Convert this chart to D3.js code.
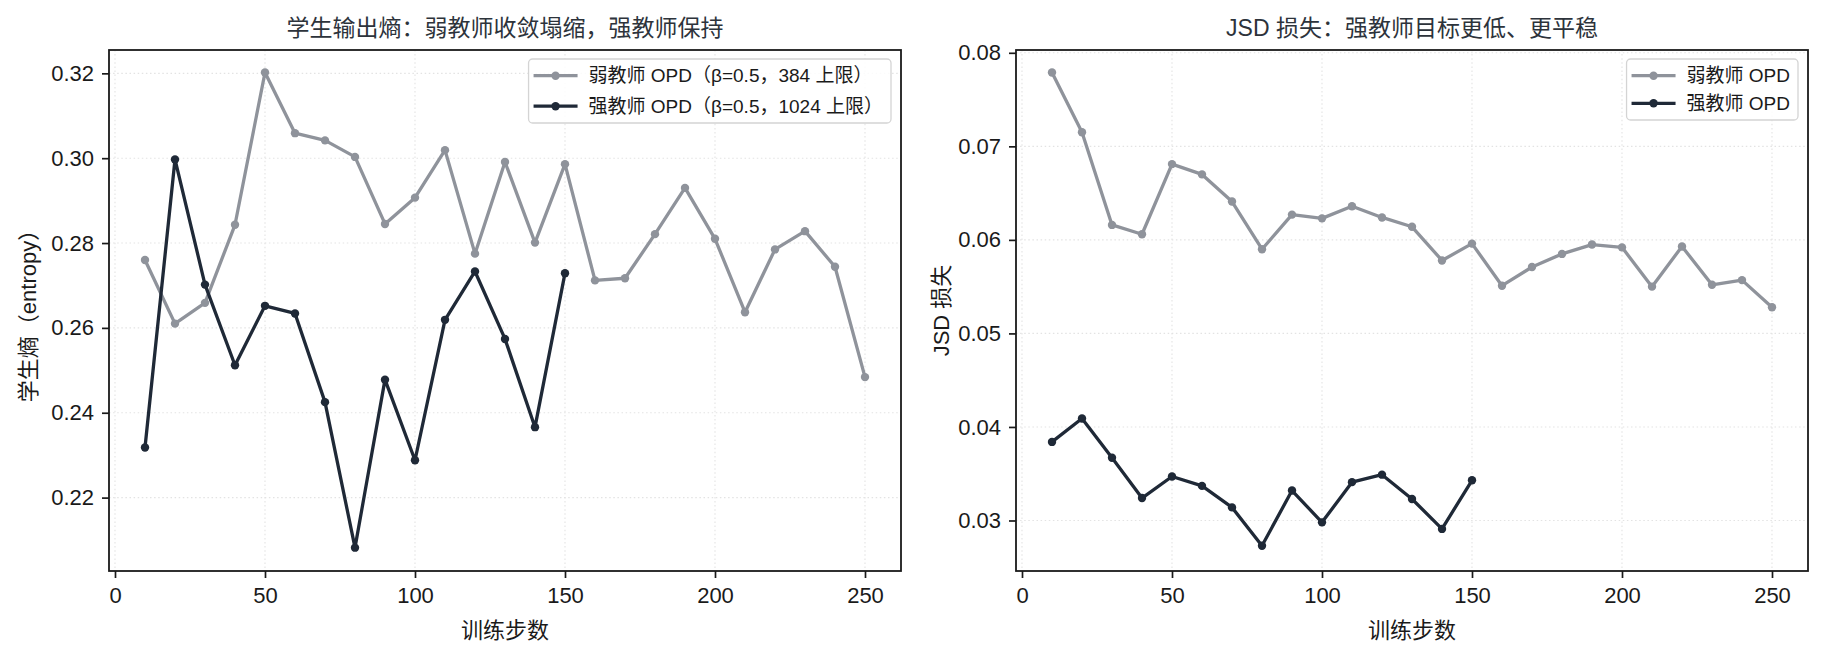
<!DOCTYPE html>
<html>
<head>
<meta charset="utf-8">
<script src="https://cdn.jsdelivr.net/npm/d3@7"></script>
<style>
  body { margin: 0; background: #fff; }
  svg { display: block; font-family: "Liberation Sans", "Noto Sans CJK SC", sans-serif; }
</style>
</head>
<body>
<svg id="chart" width="1824" height="656"></svg>
<script>
// training steps
const stepsWeak = [10, 20, 30, 40, 50, 60, 70, 80, 90, 100, 110, 120, 130, 140, 150,
                   160, 170, 180, 190, 200, 210, 220, 230, 240, 250];
const stepsStrong = [10, 20, 30, 40, 50, 60, 70, 80, 90, 100, 110, 120, 130, 140, 150];

// student entropy
const entropyWeak = [0.2760, 0.2610, 0.2659, 0.2843, 0.3202, 0.3059, 0.3042, 0.3003, 0.2845, 0.2907,
                     0.3019, 0.2775, 0.2991, 0.2801, 0.2986, 0.2712, 0.2717, 0.2821, 0.2930, 0.2810,
                     0.2637, 0.2785, 0.2828, 0.2744, 0.2484];
const entropyStrong = [0.2318, 0.2997, 0.2702, 0.2512, 0.2652, 0.2634, 0.2425, 0.2082, 0.2478, 0.2288,
                       0.2619, 0.2733, 0.2574, 0.2366, 0.2729];

// JSD loss
const jsdWeak = [0.0779, 0.0715, 0.0616, 0.0606, 0.0681, 0.0670, 0.0641, 0.0590, 0.0627, 0.0623,
                 0.0636, 0.0624, 0.0614, 0.0578, 0.0596, 0.0551, 0.0571, 0.0585, 0.0595, 0.0592,
                 0.0550, 0.0593, 0.0552, 0.0557, 0.0528];
const jsdStrong = [0.0384, 0.0409, 0.0367, 0.0324, 0.0347, 0.0337, 0.0314, 0.0273, 0.0332, 0.0298,
                   0.0341, 0.0349, 0.0323, 0.0291, 0.0343];

const xTicks = [0, 50, 100, 150, 200, 250];
const entropyTicks = [0.22, 0.24, 0.26, 0.28, 0.30, 0.32];
const jsdTicks = [0.03, 0.04, 0.05, 0.06, 0.07, 0.08];

const colorWeak = "#8f939b";
const colorStrong = "#1f2937";

const svg = d3.select("#chart");

function drawPanel(opts) {
    const m = opts.box; // left, top, right, bottom of the axes frame
    const g = svg.append("g");

    const x = d3.scaleLinear().domain([-2, 262]).range([m.left, m.right]);
    const y = d3.scaleLinear().domain(opts.yDomain).range([m.bottom, m.top]);

    // dotted grid
    g.selectAll(".gx").data(xTicks).enter().append("line")
        .attr("x1", d => x(d)).attr("x2", d => x(d))
        .attr("y1", m.top).attr("y2", m.bottom)
        .attr("stroke", "#e3e3e3").attr("stroke-width", 1.1)
        .attr("stroke-dasharray", "1.5,2.6");
    g.selectAll(".gy").data(opts.yTicks).enter().append("line")
        .attr("x1", m.left).attr("x2", m.right)
        .attr("y1", d => y(d)).attr("y2", d => y(d))
        .attr("stroke", "#e3e3e3").attr("stroke-width", 1.1)
        .attr("stroke-dasharray", "1.5,2.6");

    // axes
    const xAxis = g.append("g")
        .attr("transform", `translate(0,${m.bottom})`)
        .call(d3.axisBottom(x).tickValues(xTicks).tickSizeOuter(0).tickSize(7).tickPadding(9));
    const yAxis = g.append("g")
        .attr("transform", `translate(${m.left},0)`)
        .call(d3.axisLeft(y).tickValues(opts.yTicks).tickFormat(d3.format(".2f"))
            .tickSizeOuter(0).tickSize(7).tickPadding(8));
    [xAxis, yAxis].forEach(a => {
        a.select(".domain").remove();
        a.selectAll("line").attr("stroke", "#1a1a1a").attr("stroke-width", 1.7);
        a.selectAll("text").attr("fill", "#1a1a1a")
            .style("font-size", "22px").style("font-family", "Liberation Sans, sans-serif");
    });

    // series
    const line = d3.line().x(d => x(d[0])).y(d => y(d[1]));
    opts.series.forEach(s => {
        const pts = s.xs.map((v, i) => [v, s.ys[i]]);
        g.append("path").datum(pts)
            .attr("d", line)
            .attr("fill", "none")
            .attr("stroke", s.color)
            .attr("stroke-width", 3.3)
            .attr("stroke-linejoin", "round");
        g.selectAll(null).data(pts).enter().append("circle")
            .attr("cx", d => x(d[0])).attr("cy", d => y(d[1]))
            .attr("r", 4.2).attr("fill", s.color);
    });

    // frame
    g.append("rect")
        .attr("x", m.left).attr("y", m.top)
        .attr("width", m.right - m.left).attr("height", m.bottom - m.top)
        .attr("fill", "none").attr("stroke", "#1a1a1a").attr("stroke-width", 1.8);

    // title and labels
    g.append("text")
        .attr("x", (m.left + m.right) / 2).attr("y", 36)
        .attr("text-anchor", "middle")
        .attr("fill", "#2d333b")
        .style("font-size", "23px")
        .text(opts.title);
    g.append("text")
        .attr("x", (m.left + m.right) / 2).attr("y", 638)
        .attr("text-anchor", "middle")
        .attr("fill", "#1a1a1a")
        .style("font-size", "22px")
        .text("训练步数");
    g.append("text")
        .attr("transform", `translate(${opts.yLabelX},${(m.top + m.bottom) / 2}) rotate(-90)`)
        .attr("text-anchor", "middle")
        .attr("dominant-baseline", "central")
        .attr("fill", "#1a1a1a")
        .style("font-size", "22px")
        .text(opts.yLabel);

    // legend, upper right
    const lg = g.append("g");
    const box = lg.append("rect")
        .attr("fill", "#fff").attr("fill-opacity", 0.85)
        .attr("stroke", "#d4d4d4").attr("stroke-width", 1.3)
        .attr("rx", 4);
    let maxW = 0;
    const rowY = [75.7, 75.7 + opts.legendGap];
    opts.series.forEach((s, i) => {
        const row = lg.append("g").attr("transform", `translate(0,${rowY[i]})`);
        row.append("line").attr("x1", 5).attr("x2", 49)
            .attr("stroke", s.color).attr("stroke-width", 3.3);
        row.append("circle").attr("cx", 27).attr("r", 4.2).attr("fill", s.color);
        const t = row.append("text").attr("x", 60)
            .attr("dominant-baseline", "central")
            .attr("fill", "#1a1a1a")
            .style("font-size", "19px")
            .text(s.label);
        maxW = Math.max(maxW, t.node().getComputedTextLength());
    });
    const bw = 60 + maxW + 8;
    box.attr("x", 0).attr("y", 59).attr("width", bw).attr("height", opts.legendH);
    lg.attr("transform", `translate(${m.right - 10 - bw},0)`);
}

drawPanel({
    box: { left: 109, top: 50, right: 901, bottom: 571 },
    yDomain: [0.2027, 0.3255],
    yTicks: entropyTicks,
    title: "学生输出熵：弱教师收敛塌缩，强教师保持",
    yLabel: "学生熵（entropy）",
    yLabelX: 28,
    legendGap: 30.5,
    legendH: 64,
    series: [
        { xs: stepsWeak, ys: entropyWeak, color: colorWeak, label: "弱教师 OPD（β=0.5，384 上限）" },
        { xs: stepsStrong, ys: entropyStrong, color: colorStrong, label: "强教师 OPD（β=0.5，1024 上限）" }
    ]
});

drawPanel({
    box: { left: 1016, top: 50, right: 1808, bottom: 571 },
    yDomain: [0.0246, 0.0803],
    yTicks: jsdTicks,
    title: "JSD 损失：强教师目标更低、更平稳",
    yLabel: "JSD 损失",
    yLabelX: 941,
    legendGap: 27.6,
    legendH: 61,
    series: [
        { xs: stepsWeak, ys: jsdWeak, color: colorWeak, label: "弱教师 OPD" },
        { xs: stepsStrong, ys: jsdStrong, color: colorStrong, label: "强教师 OPD" }
    ]
});
</script>
</body>
</html>
